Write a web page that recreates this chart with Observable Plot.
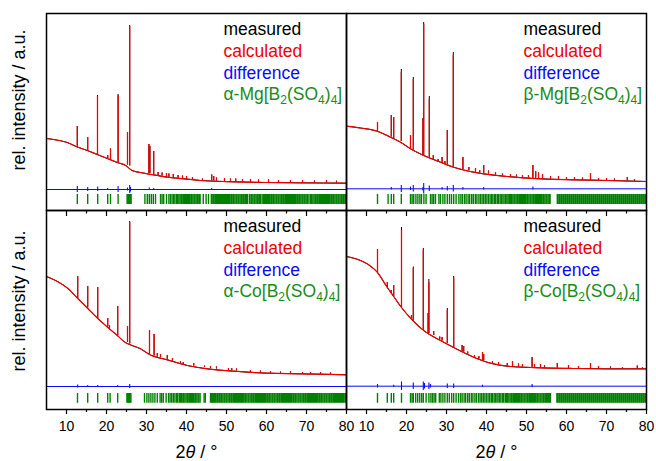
<!DOCTYPE html>
<html>
<head>
<meta charset="utf-8">
<script src="https://cdn.jsdelivr.net/npm/d3@7"></script>
<script src="https://cdn.jsdelivr.net/npm/@observablehq/plot@0.6"></script>
<style>
  html, body { margin: 0; padding: 0; background: #fff; }
  #wrap { position: relative; width: 656px; height: 461px; }
</style>
</head>
<body>
<div id="wrap"></div>
<script>
// ---------------- data ----------------
const xTicks = [10, 20, 30, 40, 50, 60, 70, 80];
const xMinor = [15, 25, 35, 45, 55, 65, 75];
const legendLabels = ["measured", "calculated", "difference"];
const phaseLabels = ["α-Mg[B2(SO4)4]", "β-Mg[B2(SO4)4]", "α-Co[B2(SO4)4]", "β-Co[B2(SO4)4]"];
const yLabel = "rel. intensity / a.u.";
const xLabel = "2θ / °";

// background of the profile: [2θ, intensity]
const aMgBg = [[5,72],[7.5,70.5],[10.2,68],[12.7,63.5],[15.2,60],[17.7,56],[20.2,52],[22.7,48],[24.8,45],[26.4,40],[28.5,38],[30.2,36.7],[32.7,35],[35.2,33.3],[39.3,31.7],[43.5,30],[51.8,28.7],[60,28],[68.5,27.7],[80,27.3]];
const bMgBg = [[5,84.3],[8.5,82.5],[12.7,79.3],[16,73.3],[18.5,68.3],[21,61.7],[24.3,55],[28.5,48.3],[31.8,43.3],[36.8,38.3],[45.2,34],[53.5,31.7],[61.8,30.7],[70.2,30],[80,29]];
const aCoBg = [[5,133],[7.5,128.5],[10.2,121.5],[12.7,111.5],[15.2,101.5],[17.7,91.5],[20.2,82.5],[22.7,74],[24.8,66.8],[26.4,64],[28.5,60.7],[31,54.5],[35.2,49.7],[40.2,44],[45.2,40.7],[51.8,38.3],[60.2,36.3],[68.5,35.7],[80,34.7]];
const bCoBg = [[5,153],[8.5,149],[10.8,144],[12.75,137],[15.2,122],[16.8,113],[18.75,102],[21.7,88.5],[24.3,79],[28.5,69],[31.8,62],[36.8,52.3],[41,46.3],[45.2,43.3],[53.5,41.7],[61.8,41],[70.2,40.7],[80,40.7]];

// reflections in the profile: [2θ, base, calculated top, measured top]
const aMgPeaks = [[12.7,63.5,84,84],[15.3,60,73,73],[17.75,56,114,115],[20.3,52,55,55],[21.0,51,61.5,61.5],[22.9,48,115,116],[25.25,45.5,78,78],[25.8,44.5,184,185],[30.6,37,66,66],[30.85,37,64,64],[31.8,36,59,59],[32.9,35,38,38],[33.9,34.5,37.5,37.5],[35.0,33.5,37,37],[35.6,33.3,36.5,36.5],[36.7,32.8,36,36],[37.9,32.3,35,35],[39.0,31.8,34.5,34.5],[40.0,31.5,34,34],[41.5,31,33,33],[44.0,30,31.5,31.5],[46.3,29.7,35.5,35.5],[46.8,29.6,34,34],[47.5,29.5,32.5,32.5],[49.5,29.2,32,32],[51.0,29,31.5,31.5],[52.3,28.7,31.5,31.5],[54.0,28.5,31,31],[56.0,28.3,31,31],[58.0,28.2,30.5,30.5],[60.5,28,30.5,30.5],[63.0,27.9,30,30],[66.0,27.8,30,30],[69.0,27.7,30,30],[72.0,27.6,29.5,29.5],[75.0,27.5,29.8,29.8],[77.5,27.4,29.3,29.3]];
const bMgPeaks = [[12.75,79.5,88,88],[16.2,73.5,95,95],[16.8,72,93,93],[18.7,69,138,141],[21.0,62,75,75],[21.7,60.5,131,133],[24.1,55.5,92,92],[24.3,55,186,188],[25.7,52,111,114],[26.7,50,55,55],[27.9,48.5,51,51],[28.9,47.5,53,53],[29.6,46.5,49,49],[30.2,46,80,80],[31.7,43.5,155,158],[34.1,41,53,53],[35.6,40,43,43],[37.25,38,42,42],[38.3,37.5,40,40],[39.3,37,45,45],[40.5,36.5,39.5,39.5],[42.25,35.5,38,38],[44.0,34.8,36.5,36.5],[46.0,34,36,36],[47.5,33.5,35.5,35.5],[49.0,33,35,35],[50.5,32.5,35,35],[51.6,32.3,45,45],[52.3,32.2,39,39],[53.0,32,37.5,37.5],[54.0,31.8,36,36],[56.0,31.5,34,34],[58.0,31.2,34,34],[60.0,31,33,33],[62.0,30.7,33,33],[64.0,30.5,32.5,32.5],[66.0,30.3,37,37],[68.0,30.2,32,32],[70.0,30,32,32],[72.0,29.8,31.5,31.5],[75.2,29.5,33,33],[77.0,29.3,31,31]];
const aCoPeaks = [[12.8,111,133,133],[15.3,101.5,123,123],[17.8,91,122,122],[20.3,82.5,91,91],[20.75,81,84,84],[22.8,74,103,103],[25.25,67,83,83],[25.8,65.5,187,188],[30.75,55.5,79,79],[31.9,53.5,75,75],[32.7,52.5,56,56],[33.5,51.8,55,55],[35.2,49.7,54,54],[36.5,48.5,51,51],[38.5,45.5,48,48],[39.2,45,47,47],[41.8,43.5,46,46],[44.5,42,43.5,43.5],[46.0,41,43,43],[47.5,40.5,42.5,42.5],[50.5,39,41,41],[51.3,38.8,41,41],[52.5,38.5,40.5,40.5],[56.0,37.3,39,39],[58.5,36.8,38.5,38.5],[61.0,36.3,38,38],[63.5,36.1,37.5,37.5],[66.0,36,38,38],[69.0,35.7,37,37],[71.0,35.5,37,37],[73.5,35.3,37,37],[76.0,35,36.5,36.5]];
const bCoPeaks = [[12.75,137,159.7,160],[15.2,122,127,127],[16.2,116,119,119],[16.8,113,124,124],[18.75,102,179,182],[21.25,91,94,94],[21.7,88.5,141,142.5],[24.2,79,159,161],[25.4,76.5,96,96],[25.6,76,127,130],[26.8,74,78,78],[28.3,69.5,72.5,72.5],[28.9,68.5,72,72],[30.2,66,99,101],[31.8,62,131,133],[33.9,58,64,64],[34.3,57.3,63,63],[35.3,55.5,57.5,57.5],[37.0,52,54,54],[38.1,50.3,53,53],[39.0,49.3,57,57],[39.3,49,55,55],[41.5,46.2,48,48],[43.0,45,47,47],[45.2,43.3,46,46],[46.5,43,48,48],[48.0,42.6,45.5,45.5],[49.0,42.4,45,45],[51.4,42.2,52,52],[52.0,42.1,45,45],[53.5,41.8,45,45],[54.5,41.7,44,44],[57.7,41.4,46,46],[60.5,41.1,44,44],[63.0,41,43,43],[66.0,40.9,46,46],[68.0,40.8,43,43],[71.0,40.7,42.5,42.5],[74.0,40.7,42,42],[77.7,40.7,43.5,43.5],[79.0,40.7,42,42]];

// difference curve: level and excursions [2θ, low, high]
const aMgDiffBase = 21, bMgDiffBase = 21.7, aCoDiffBase = 23, bCoDiffBase = 23.3;
const aMgDiff = [[12.7,18,24],[15.3,19,23],[17.8,19,23.5],[20.3,20,22],[22.9,18,24],[25.25,19.5,22.5],[25.8,17,25],[26.0,18.5,23],[30.7,20,22.5],[31.8,20,22],[46.3,20,22]];
const bMgDiff = [[16.2,20.5,23],[18.7,18,25],[21.0,20,23.5],[21.7,18.5,25],[24.1,19.5,23],[24.3,16.5,27],[25.7,19,24.5],[28.9,20.5,23],[30.2,19.5,24],[31.7,18.5,25],[34.1,20.5,23],[39.3,20.5,23],[51.6,20.5,23.5]];
const aCoDiff = [[12.8,21.5,24.5],[15.3,22,24],[17.8,22,24],[22.8,22,24],[25.8,21,25]];
const bCoDiff = [[12.75,21.5,25],[16.8,22.3,24.3],[18.75,19,27.5],[21.7,20,26.5],[24.2,19,27.5],[24.5,20.5,26],[25.6,20,26.5],[26.0,21.5,25],[30.2,21,25.5],[31.8,21,25.5],[39,22.3,24.3],[51.4,22,25]];

// reflection positions (2θ)
const aMgTicks = [12.7,15.3,17.8,20.3,21.0,22.9,25.15,25.35,25.55,25.75,25.95,26.15,29.6,30.2,30.7,31.2,31.7,32.25,33.5,33.9,34.3,35.0,35.6,36.0,36.4,36.8,37.1,37.5,37.8,38.1,38.4,38.7,38.9,39.2,39.5,39.7,40.0,40.3,40.5,40.8,41.1,41.3,41.6,41.9,42.1,42.4,42.7,42.9,43.2,43.4,44.2,44.9,45.5,46.2,46.4,46.7,46.9,47.2,47.5,47.7,48.0,48.2,48.5,48.7,49.0,49.3,49.5,49.8,50.0,50.3,50.5,50.8,51.1,51.3,51.6,51.8,52.1,52.4,52.6,52.9,53.1,53.4,53.7,53.9,54.2,54.4,54.7,55.0,55.2,55.7,56.1,56.3,56.6,56.9,57.1,57.4,57.7,57.9,58.2,58.5,58.9,59.2,59.5,59.8,60.0,60.3,60.5,60.8,61.1,61.3,61.6,61.8,62.1,62.4,62.6,62.9,63.1,63.4,63.7,63.9,64.2,64.4,64.7,65.0,65.2,65.5,65.7,66.0,66.3,66.5,66.8,67.0,67.3,67.6,67.8,68.1,68.3,68.6,68.9,69.1,69.4,69.6,69.9,70.2,70.6,71.0,71.3,71.6,71.9,72.2,72.4,72.7,72.9,73.2,73.5,73.7,74.0,74.2,74.5,74.8,75.0,75.3,75.5,75.8,76.1,76.3,76.6,76.8,77.1,77.4,77.6,77.9,78.1,78.4,78.7,78.9,79.2,79.4,79.7,79.9];
const bMgTicks = [12.75,15.4,16.2,16.8,18.7,21.0,21.4,21.8,22.35,22.85,23.35,23.75,24.35,24.9,26.0,26.4,26.8,27.25,28.1,28.5,29.1,29.6,30.2,30.75,31.25,31.8,32.4,33.1,33.6,34.0,34.5,34.9,35.4,35.8,36.3,36.7,37.2,37.6,38.1,38.5,38.9,39.3,39.7,40.1,40.5,40.9,41.3,41.6,42.0,42.3,42.7,43.0,43.4,43.7,44.1,44.4,44.8,45.1,45.4,45.7,46.0,46.3,46.6,46.9,47.1,47.4,47.7,47.9,48.2,48.5,48.7,49.0,49.3,49.5,49.8,50.1,50.3,50.6,50.9,51.1,51.4,51.7,51.9,52.2,52.5,52.7,53.0,53.3,53.5,53.8,54.1,54.3,54.6,54.9,55.1,55.4,55.7,55.9,57.7,57.9,58.2,58.4,58.7,58.9,59.2,59.4,59.7,59.9,60.2,60.4,60.7,60.9,61.2,61.4,61.7,61.9,62.2,62.4,62.7,62.9,63.2,63.4,63.7,63.9,64.2,64.4,64.7,64.9,65.2,65.4,65.7,65.9,66.2,66.4,66.7,66.9,67.2,67.4,67.7,67.9,68.2,68.4,68.7,68.9,69.2,69.4,69.7,69.9,70.2,70.4,70.7,70.9,71.2,71.4,71.7,71.9,72.2,72.4,72.7,72.9,73.2,73.4,73.7,73.9,74.2,74.4,74.7,74.9,75.2,75.4,75.7,75.9,76.2,76.4,76.7,76.9,77.2,77.4,77.7,77.9,78.2,78.4,78.7,78.9,79.2,79.4,79.7,79.9];
const aCoTicks = [12.75,15.3,17.8,20.3,20.9,22.8,25.1,25.3,25.5,25.7,25.9,26.1,29.5,30.1,30.6,31.1,31.6,32.1,32.7,33.4,33.8,34.2,34.9,35.5,35.9,36.3,36.7,37.1,37.5,37.8,38.2,38.5,38.8,39.1,39.3,39.6,39.9,40.2,40.4,40.7,41.0,41.3,41.5,41.8,42.1,42.3,42.6,42.9,43.1,43.4,44.4,44.7,46.0,46.3,46.5,46.8,47.0,47.3,47.6,47.8,48.1,48.3,48.6,48.8,49.1,49.4,49.6,49.9,50.1,50.4,50.7,50.9,51.2,51.4,51.7,52.0,52.2,52.5,52.7,53.0,53.3,53.5,53.8,54.0,54.3,54.6,54.8,55.1,55.4,55.6,55.9,56.2,56.4,56.7,56.9,57.2,57.5,57.7,58.0,58.2,58.5,58.8,59.0,59.3,59.5,59.8,60.1,60.3,60.6,60.8,61.1,61.4,61.6,61.9,62.1,62.4,62.7,62.9,63.2,63.4,63.7,64.0,64.2,64.5,64.7,65.0,65.3,65.5,65.8,66.0,66.3,66.6,66.8,67.1,67.3,67.6,67.9,68.1,68.4,68.6,68.9,69.2,69.4,69.7,69.9,70.2,70.5,70.7,71.0,71.2,71.5,71.8,72.0,72.3,72.5,72.8,73.1,73.3,73.6,73.8,74.1,74.4,74.6,74.9,75.1,75.4,75.7,75.9,76.2,76.4,76.7,77.0,77.2,77.5,77.7,78.0,78.3,78.5,78.8,79.0,79.3,79.6,79.8];
const bCoTicks = [12.75,15.2,16.2,16.8,18.75,21.0,21.4,21.7,22.3,22.8,23.3,23.8,24.2,24.9,25.6,26.1,26.5,26.9,27.3,28.2,28.6,29.1,29.6,30.2,30.7,31.3,31.8,32.4,33.0,33.5,33.9,34.4,34.8,35.3,35.7,36.2,36.6,37.1,37.5,38.0,38.4,38.8,39.2,39.6,40.0,40.4,40.8,41.2,41.5,41.9,42.2,42.6,42.9,43.3,43.6,44.0,44.3,44.7,45.0,45.3,45.6,45.9,46.2,46.4,46.7,47.0,47.2,47.5,47.8,48.0,48.3,48.6,48.8,49.1,49.4,49.6,49.9,50.2,50.4,50.7,51.0,51.2,51.5,51.8,52.0,52.3,52.6,52.8,53.1,53.4,53.6,53.9,54.2,54.4,54.7,55.0,55.2,55.5,55.8,56.0,57.6,57.8,58.1,58.3,58.6,58.8,59.1,59.3,59.6,59.8,60.1,60.3,60.6,60.8,61.1,61.3,61.6,61.8,62.1,62.3,62.6,62.8,63.1,63.3,63.6,63.8,64.1,64.3,64.6,64.8,65.1,65.3,65.6,65.8,66.1,66.3,66.6,66.8,67.1,67.3,67.6,67.8,68.1,68.3,68.6,68.8,69.1,69.3,69.6,69.8,70.1,70.3,70.6,70.8,71.1,71.3,71.6,71.8,72.1,72.3,72.6,72.8,73.1,73.3,73.6,73.8,74.1,74.3,74.6,74.8,75.1,75.3,75.6,75.8,76.1,76.3,76.6,76.8,77.1,77.3,77.6,77.8,78.1,78.3,78.6,78.8,79.1,79.3,79.6,79.8];

// ---------------- styling / layout ----------------
const RED = "#f00000", BLUE = "#0a0aff", GREEN = "#008000", LEGEND_GREEN = "#1a8c1a";
const legendColors = ["#000000", RED, BLUE, LEGEND_GREEN];
const FONT = "'Liberation Sans', Arial, Helvetica, sans-serif";
const W = 656, HT = 461;
const cols = [{ml: 46, mr: 310}, {ml: 346, mr: 10}];
const rows = [{mt: 13, mb: 251, band: [6, 16], ylDy: -12}, {mt: 210, mb: 52, band: [6.2, 16], ylDy: -9}];

const panels = [
  {row: 0, col: 0, bg: aMgBg, peaks: aMgPeaks, diffBase: aMgDiffBase, diff: aMgDiff, ticks: aMgTicks, label: phaseLabels[0]},
  {row: 0, col: 1, bg: bMgBg, peaks: bMgPeaks, diffBase: bMgDiffBase, diff: bMgDiff, ticks: bMgTicks, label: phaseLabels[1]},
  {row: 1, col: 0, bg: aCoBg, peaks: aCoPeaks, diffBase: aCoDiffBase, diff: aCoDiff, ticks: aCoTicks, label: phaseLabels[2]},
  {row: 1, col: 1, bg: bCoBg, peaks: bCoPeaks, diffBase: bCoDiffBase, diff: bCoDiff, ticks: bCoTicks, label: phaseLabels[3]}
];

function makePanel(p) {
  const c = cols[p.col], r = rows[p.row];
  const H = HT - r.mt - r.mb;
  const marks = [
    // measured
    Plot.line(p.bg, {x: d => d[0], y: d => d[1], stroke: "#000", strokeWidth: 1, curve: "monotone-x"}),
    Plot.ruleX(p.peaks, {x: d => d[0], y1: d => d[1], y2: d => d[3], stroke: "#000", strokeWidth: 1}),
    // calculated
    Plot.line(p.bg, {x: d => d[0], y: d => d[1], stroke: RED, strokeWidth: 1.2, curve: "monotone-x"}),
    Plot.ruleX(p.peaks, {x: d => d[0], y1: d => d[1], y2: d => d[2], stroke: RED, strokeWidth: 1.3}),
    // difference
    Plot.ruleY([p.diffBase], {stroke: BLUE, strokeWidth: 1}),
    Plot.ruleX(p.diff, {x: d => d[0], y1: d => d[1], y2: d => d[2], stroke: BLUE, strokeWidth: 1.1}),
    // reflection markers
    Plot.ruleX(p.ticks, {x: d => d, y1: r.band[0], y2: r.band[1], stroke: GREEN, strokeWidth: 1.4}),
    Plot.frame({stroke: "#000", strokeWidth: 1.5})
  ];
  [...legendLabels, p.label].forEach((t, i) => {
    marks.push(Plot.text([t], {text: d => d, frameAnchor: "top-left", textAnchor: "start", lineAnchor: "bottom",
      dx: 177, dy: 21.5 + 21.8 * i, fill: legendColors[i], fontSize: 17.5}));
  });
  if (p.col === 0) {
    marks.push(Plot.text([yLabel], {text: d => d, frameAnchor: "left", rotate: -90, textAnchor: "middle",
      lineAnchor: "middle", dx: -27, dy: r.ylDy, fill: "#000", fontSize: 18}));
  }
  if (p.row === 1) {
    marks.push(
      Plot.axisX({ticks: xTicks, tickSize: 5, tickPadding: 7, fontSize: 14, tickFormat: d => String(d), label: null, strokeWidth: 1.2}),
      Plot.tickX(xMinor, {x: d => d, insetTop: H, insetBottom: -3, stroke: "#000", strokeWidth: 1.2}),
      Plot.tickX(xTicks, {x: d => d, insetBottom: H - 6, stroke: "#000", strokeWidth: 1.2}),
      Plot.tickX(xMinor, {x: d => d, insetBottom: H - 3.5, stroke: "#000", strokeWidth: 1.2}),
      Plot.text([xLabel], {text: d => d, frameAnchor: "bottom", lineAnchor: "bottom", dy: 48, fontSize: 18, fill: "#000"})
    );
  }
  const svg = Plot.plot({
    width: W, height: HT,
    marginLeft: c.ml, marginRight: c.mr, marginTop: r.mt, marginBottom: r.mb,
    x: {domain: [5, 80], axis: null},
    y: {domain: [0, H], axis: null},
    style: `background: transparent; font-family: ${FONT}; position: absolute; left: 0; top: 0; overflow: visible;`,
    marks
  });
  return svg;
}

const SVGNS = "http://www.w3.org/2000/svg";
function richText(svg) {
  svg.querySelectorAll("text").forEach(t => {
    const s = t.textContent;
    if (/\[B\d/.test(s)) {
      while (t.firstChild) t.removeChild(t.firstChild);
      let low = false;
      s.split(/(\d)/).forEach(part => {
        if (!part) return;
        const ts = document.createElementNS(SVGNS, "tspan");
        ts.textContent = part;
        if (/^\d$/.test(part)) {
          ts.setAttribute("font-size", "12");
          if (!low) { ts.setAttribute("dy", "4"); low = true; }
        } else if (low) { ts.setAttribute("dy", "-4"); low = false; }
        t.appendChild(ts);
      });
    } else if (s === xLabel) {
      while (t.firstChild) t.removeChild(t.firstChild);
      const pieces = [["2", false], ["θ", true], [" / °", false]];
      pieces.forEach(([txt, it]) => {
        const ts = document.createElementNS(SVGNS, "tspan");
        ts.textContent = txt;
        if (it) ts.setAttribute("font-style", "italic");
        t.appendChild(ts);
      });
    }
  });
}

const wrap = document.getElementById("wrap");
panels.forEach(p => {
  const svg = makePanel(p);
  richText(svg);
  wrap.appendChild(svg);
});
</script>
</body>
</html>
